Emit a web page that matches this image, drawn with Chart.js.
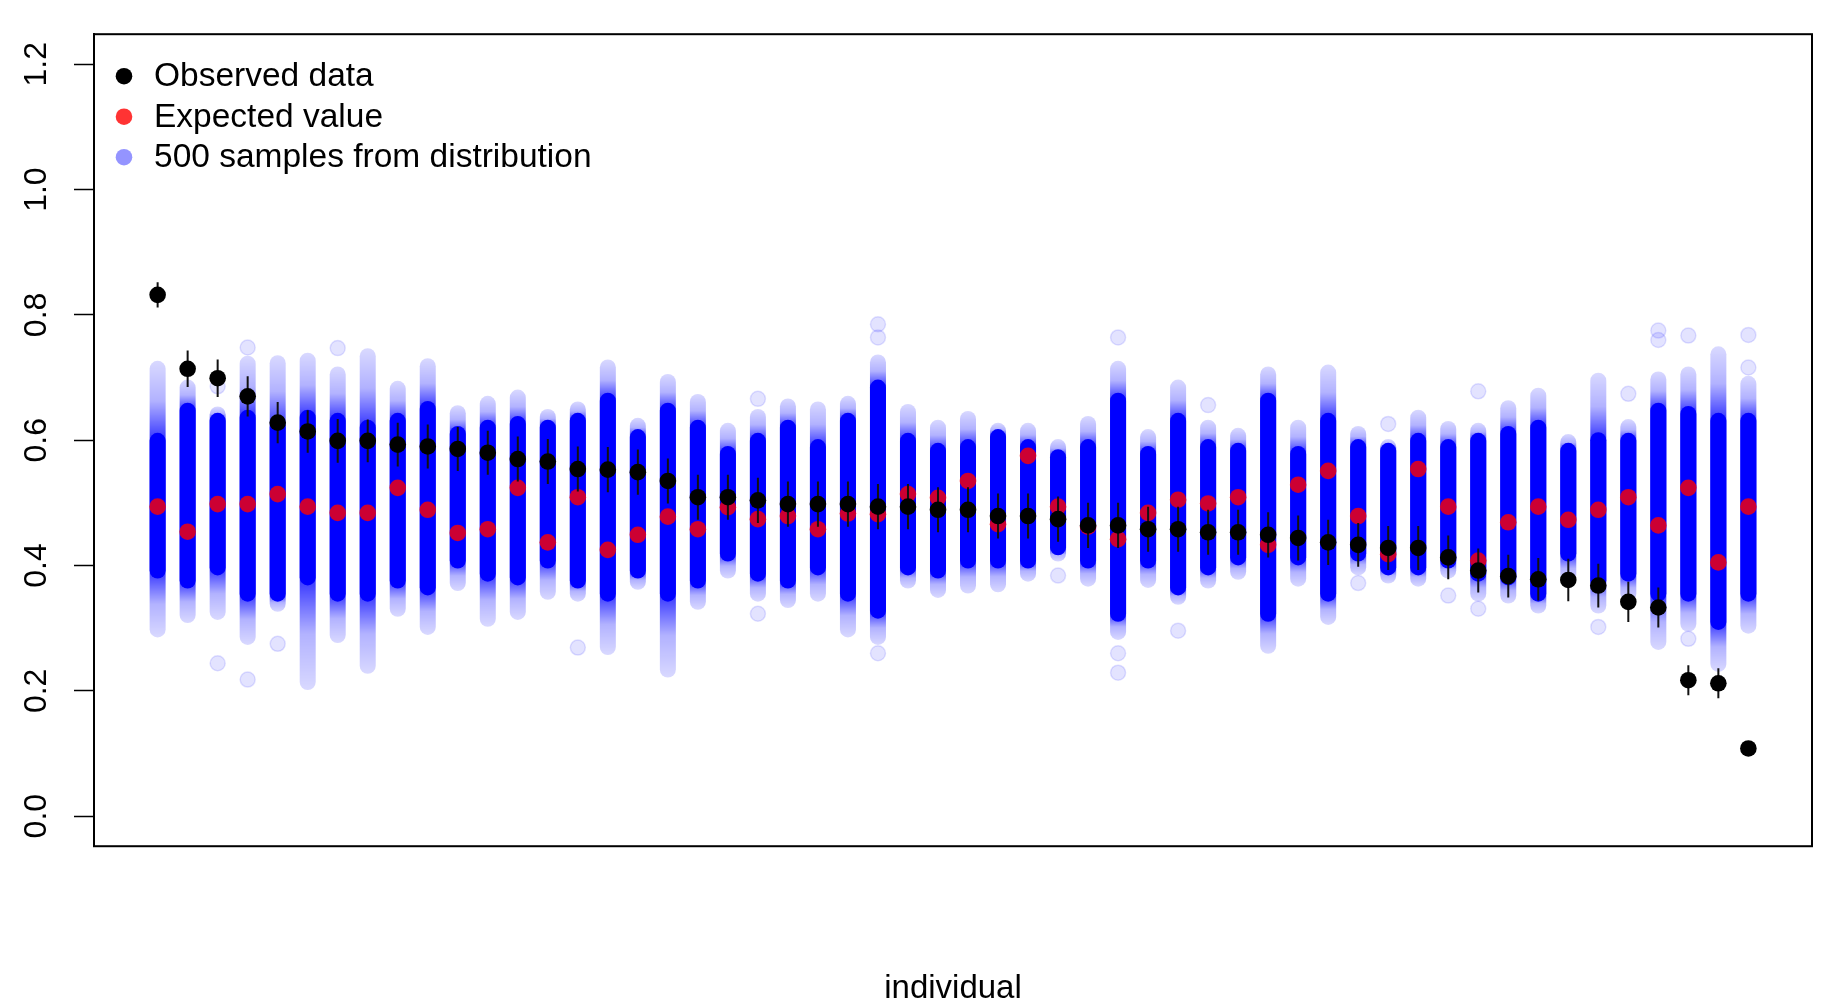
<!DOCTYPE html>
<html>
<head>
<meta charset="utf-8">
<script src="https://cdn.jsdelivr.net/npm/chart.js@4.4.1/dist/chart.umd.min.js"></script>
<style>
  html, body { margin: 0; padding: 0; background: #fff; }
  #wrap { width: 1830px; height: 1000px; }
</style>
</head>
<body>
<div id="wrap"><canvas id="chart" width="1830" height="1000"></canvas></div>
<script>
// values, one entry per individual (1..54)
const observed = [0.832, 0.714, 0.699, 0.670, 0.628, 0.614, 0.599, 0.599, 0.593, 0.590,
    0.586, 0.580, 0.570, 0.566, 0.554, 0.553, 0.549, 0.535, 0.509, 0.509,
    0.504, 0.498, 0.498, 0.498, 0.494, 0.494, 0.489, 0.489, 0.479, 0.479,
    0.474, 0.464, 0.464, 0.458, 0.458, 0.453, 0.453, 0.449, 0.444, 0.437,
    0.433, 0.428, 0.428, 0.413, 0.392, 0.383, 0.378, 0.377, 0.368, 0.342,
    0.333, 0.217, 0.212, 0.108];
const observedErr = [0.020, 0.029, 0.030, 0.032, 0.033, 0.034, 0.035, 0.034, 0.035, 0.035,
    0.035, 0.035, 0.036, 0.036, 0.036, 0.036, 0.036, 0.036, 0.036, 0.036,
    0.036, 0.036, 0.036, 0.036, 0.036, 0.036, 0.036, 0.036, 0.036, 0.036,
    0.036, 0.036, 0.036, 0.036, 0.036, 0.036, 0.036, 0.036, 0.036, 0.036,
    0.035, 0.035, 0.035, 0.035, 0.035, 0.034, 0.034, 0.034, 0.035, 0.032,
    0.032, 0.024, 0.024, 0.004];
const expected = [0.494, 0.454, 0.498, 0.498, 0.514, 0.494, 0.484, 0.484, 0.524, 0.489,
    0.452, 0.458, 0.524, 0.437, 0.509, 0.425, 0.449, 0.478, 0.458, 0.493,
    0.474, 0.479, 0.458, 0.483, 0.482, 0.514, 0.508, 0.535, 0.466, 0.575,
    0.494, 0.462, 0.442, 0.484, 0.505, 0.499, 0.509, 0.433, 0.529, 0.551,
    0.479, 0.418, 0.554, 0.494, 0.408, 0.469, 0.494, 0.473, 0.489, 0.509,
    0.464, 0.524, 0.405, 0.494];

// dense part of the 500 samples (solid blue)
const coreHigh = [0.599, 0.647, 0.631, 0.636, 0.620, 0.636, 0.631, 0.620, 0.631, 0.650,
    0.610, 0.620, 0.626, 0.620, 0.631, 0.663, 0.605, 0.647, 0.620, 0.578,
    0.599, 0.620, 0.589, 0.631, 0.684, 0.599, 0.583, 0.589, 0.605, 0.589,
    0.573, 0.589, 0.663, 0.578, 0.631, 0.589, 0.583, 0.663, 0.578, 0.631,
    0.589, 0.583, 0.599, 0.589, 0.599, 0.610, 0.620, 0.583, 0.600, 0.599,
    0.647, 0.642, 0.631, 0.631];
const coreLow = [0.392, 0.376, 0.397, 0.355, 0.355, 0.381, 0.355, 0.355, 0.376, 0.365,
    0.408, 0.387, 0.381, 0.408, 0.376, 0.355, 0.392, 0.355, 0.376, 0.419,
    0.387, 0.376, 0.397, 0.355, 0.328, 0.397, 0.392, 0.408, 0.408, 0.408,
    0.429, 0.408, 0.323, 0.408, 0.365, 0.397, 0.413, 0.323, 0.413, 0.355,
    0.419, 0.397, 0.397, 0.408, 0.387, 0.381, 0.355, 0.419, 0.376, 0.387,
    0.355, 0.355, 0.310, 0.355];

// full spread of the samples (faint tails)
const sampleMax = [0.714, 0.684, 0.641, 0.722, 0.723, 0.727, 0.705, 0.734, 0.682, 0.718,
    0.643, 0.658, 0.668, 0.637, 0.649, 0.716, 0.623, 0.693, 0.661, 0.615,
    0.637, 0.654, 0.649, 0.658, 0.724, 0.645, 0.620, 0.634, 0.615, 0.615,
    0.589, 0.626, 0.714, 0.605, 0.684, 0.620, 0.607, 0.705, 0.620, 0.708,
    0.610, 0.589, 0.636, 0.618, 0.615, 0.651, 0.671, 0.597, 0.695, 0.621,
    0.697, 0.705, 0.737, 0.690];
const sampleMin = [0.298, 0.321, 0.326, 0.286, 0.339, 0.214, 0.289, 0.240, 0.331, 0.302,
    0.372, 0.315, 0.326, 0.358, 0.355, 0.270, 0.374, 0.234, 0.342, 0.392,
    0.355, 0.345, 0.355, 0.298, 0.286, 0.376, 0.361, 0.368, 0.370, 0.387,
    0.419, 0.379, 0.294, 0.377, 0.350, 0.376, 0.390, 0.272, 0.379, 0.318,
    0.397, 0.384, 0.379, 0.392, 0.355, 0.352, 0.336, 0.385, 0.336, 0.355,
    0.278, 0.307, 0.243, 0.304];

// isolated samples: [individual, value]
const sampleOutliers = [[3, 0.686], [3, 0.244], [4, 0.748], [4, 0.218], [5, 0.275], [7, 0.747],
    [15, 0.269], [21, 0.666], [21, 0.323], [25, 0.785], [25, 0.764], [25, 0.260],
    [31, 0.384], [33, 0.764], [33, 0.260], [33, 0.229], [35, 0.296], [36, 0.656],
    [41, 0.372], [42, 0.626], [44, 0.352], [45, 0.678], [45, 0.331], [49, 0.302],
    [50, 0.674], [51, 0.775], [51, 0.760], [52, 0.767], [52, 0.283], [54, 0.768], [54, 0.716]];

const yTicks = [0.0, 0.2, 0.4, 0.6, 0.8, 1.0, 1.2];

const FONT = "'Liberation Sans', Arial, Helvetica, sans-serif";
const DOT = 8.3;
const CAP = 8;

// bars that stand for stacks of circles: stretch them by one radius at each end
const capPlugin = {
    id: 'caps',
    afterDatasetUpdate(chart, args) {
        const ds = chart.data.datasets[args.index];
        if (!ds.cap) return;
        args.meta.data.forEach(bar => {
            bar.y -= ds.cap;
            bar.base += ds.cap;
        });
    },
};

// box round the plot region, like R's box()
const boxPlugin = {
    id: 'box',
    afterDraw(chart) {
        const { ctx, chartArea: a } = chart;
        ctx.save();
        ctx.strokeStyle = '#000';
        ctx.lineWidth = 2;
        ctx.strokeRect(a.left, a.top, a.right - a.left, a.bottom - a.top);
        ctx.restore();
    },
};

// legend inside the top-left corner of the plot
const insideLegend = {
    id: 'insideLegend',
    afterDraw(chart) {
        const { ctx, chartArea: a } = chart;
        const items = chart.data.datasets.filter(d => d.legendColor);
        ctx.save();
        ctx.font = '33.5px ' + FONT;
        ctx.textBaseline = 'middle';
        items.forEach((d, i) => {
            const y = a.top + 42 + i * 40.5;
            ctx.beginPath();
            ctx.arc(a.left + 30, y, DOT, 0, Math.PI * 2);
            ctx.fillStyle = d.legendColor;
            ctx.fill();
            ctx.fillStyle = '#000';
            ctx.fillText(d.label, a.left + 60, y + 1);
        });
        ctx.restore();
    },
};

// faint tails get denser towards the solid core
function spreadFill(c) {
    const i = c.dataIndex;
    const y = c.chart.scales.y;
    if (!y || i === undefined) return 'rgba(0,0,255,0.3)';
    const top = y.getPixelForValue(sampleMax[i]) - CAP;
    const bottom = y.getPixelForValue(sampleMin[i]) + CAP;
    const h = bottom - top;
    if (!(h > 0)) return 'rgba(0,0,255,0.3)';
    const hi = Math.min(Math.max((y.getPixelForValue(coreHigh[i]) - top) / h, 0), 1);
    const lo = Math.min(Math.max((y.getPixelForValue(coreLow[i]) - top) / h, hi), 1);
    const g = c.chart.ctx.createLinearGradient(0, top, 0, bottom);
    g.addColorStop(0, 'rgba(0,0,255,0.15)');
    g.addColorStop(hi * 0.5, 'rgba(0,0,255,0.3)');
    g.addColorStop(hi, 'rgba(0,0,255,0.8)');
    g.addColorStop(lo, 'rgba(0,0,255,0.8)');
    g.addColorStop(lo + (1 - lo) * 0.5, 'rgba(0,0,255,0.3)');
    g.addColorStop(1, 'rgba(0,0,255,0.15)');
    return g;
}

const idx = observed.map((v, i) => i + 1);

new Chart(document.getElementById('chart'), {
    type: 'bar',
    data: {
        datasets: [
            {
                type: 'scatter',
                label: 'Observed data',
                legendColor: '#000',
                data: idx.map((x, i) => ({ x: x, y: observed[i] })),
                backgroundColor: '#000',
                borderColor: '#000',
                borderWidth: 0,
                pointRadius: DOT,
                order: 1,
            },
            {
                type: 'bar',
                label: 'error',
                data: idx.map((x, i) => ({ x: x, y: [observed[i] - observedErr[i], observed[i] + observedErr[i]] })),
                backgroundColor: '#111',
                barThickness: 2,
                grouped: false,
                inflateAmount: 0,
                order: 2,
            },
            {
                type: 'scatter',
                label: 'Expected value',
                legendColor: 'rgba(255,0,0,0.8)',
                data: idx.map((x, i) => ({ x: x, y: expected[i] })),
                backgroundColor: 'rgba(255,0,0,0.8)',
                borderWidth: 0,
                pointRadius: DOT,
                order: 3,
            },
            {
                type: 'bar',
                label: '500 samples from distribution',
                legendColor: 'rgba(0,0,255,0.42)',
                data: idx.map((x, i) => ({ x: x, y: [coreLow[i], coreHigh[i]] })),
                backgroundColor: '#0000ff',
                barThickness: 16,
                borderRadius: 8,
                borderSkipped: false,
                grouped: false,
                inflateAmount: 0,
                cap: CAP,
                order: 4,
            },
            {
                type: 'scatter',
                label: 'outliers',
                data: sampleOutliers.map(p => ({ x: p[0], y: p[1] })),
                backgroundColor: 'rgba(0,0,255,0.11)',
                borderColor: 'rgba(0,0,255,0.12)',
                borderWidth: 1.5,
                pointRadius: 7.5,
                order: 5,
            },
            {
                type: 'bar',
                label: 'spread',
                data: idx.map((x, i) => ({ x: x, y: [sampleMin[i], sampleMax[i]] })),
                backgroundColor: spreadFill,
                barThickness: 16,
                borderRadius: 8,
                borderSkipped: false,
                grouped: false,
                inflateAmount: 0,
                cap: CAP,
                order: 6,
            },
        ],
    },
    options: {
        responsive: false,
        devicePixelRatio: 1,
        animation: false,
        events: [],
        layout: { padding: { top: 33, right: 18, bottom: 0, left: 0 } },
        plugins: {
            legend: { display: false },
            tooltip: { enabled: false },
        },
        scales: {
            x: {
                type: 'linear',
                offset: false,
                min: -1.12,
                max: 56.12,
                ticks: { display: false },
                grid: { display: false, drawTicks: false },
                border: { display: false },
                title: {
                    display: true,
                    text: 'individual',
                    color: '#000',
                    font: { family: FONT, size: 33, lineHeight: 0.66 },
                    padding: { top: 132, bottom: 0 },
                },
            },
            y: {
                type: 'linear',
                min: -0.048,
                max: 1.248,
                afterBuildTicks: scale => {
                    scale.ticks = yTicks.map(v => ({ value: v }));
                },
                afterFit: scale => {
                    scale.width = 94;
                },
                ticks: {
                    color: '#000',
                    font: { family: FONT, size: 32 },
                    padding: 15,
                    minRotation: 90,
                    maxRotation: 90,
                    crossAlign: 'center',
                    callback: v => v.toFixed(1),
                },
                grid: {
                    drawOnChartArea: false,
                    drawTicks: true,
                    tickLength: 20,
                    tickColor: '#000',
                    tickWidth: 1.5,
                },
                border: { display: true, color: '#000', width: 2 },
            },
        },
    },
    plugins: [capPlugin, boxPlugin, insideLegend],
});
</script>
</body>
</html>
